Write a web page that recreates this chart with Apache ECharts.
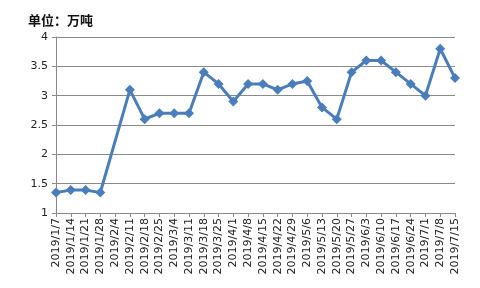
<!DOCTYPE html>
<html><head><meta charset="utf-8">
<script src="https://cdn.jsdelivr.net/npm/echarts@6/dist/echarts.min.js"></script>
<style>html,body{margin:0;padding:0;background:#fff}#c{width:480px;height:288px}</style>
</head><body><div id="c"></div>
<script>
var categories = ['2019/1/7','2019/1/14','2019/1/21','2019/1/28','2019/2/4','2019/2/11','2019/2/18','2019/2/25','2019/3/4','2019/3/11','2019/3/18','2019/3/25','2019/4/1','2019/4/8','2019/4/15','2019/4/22','2019/4/29','2019/5/6','2019/5/13','2019/5/20','2019/5/27','2019/6/3','2019/6/10','2019/6/17','2019/6/24','2019/7/1','2019/7/8','2019/7/15'];
var values = [1.35,1.39,1.39,1.35,null,3.1,2.6,2.7,2.7,2.7,3.4,3.2,2.9,3.2,3.2,3.1,3.2,3.25,2.8,2.6,3.4,3.6,3.6,3.4,3.2,3.0,3.8,3.3];
var yTicks = [1,1.5,2,2.5,3,3.5,4];
var unitLabel = '单位：万吨';

var chart = echarts.init(document.getElementById('c'));
chart.setOption({
  animation:false,
  backgroundColor:'#fff',
  title:{text:unitLabel,left:23,top:9,textStyle:{fontSize:13,fontWeight:'bold',color:'#111',fontFamily:'Noto Sans CJK SC'}},
  grid:{left:56,right:25,top:37,bottom:75},
  xAxis:{type:'category',data:categories,boundaryGap:false,
    axisLine:{lineStyle:{color:'#888',width:1}},
    axisTick:{show:true,alignWithLabel:true,length:4,lineStyle:{color:'#888'}},
    axisLabel:{rotate:90,interval:0,fontSize:11,color:'#222',fontFamily:'DejaVu Sans',margin:5}},
  yAxis:{type:'value',min:yTicks[0],max:yTicks[yTicks.length-1],interval:0.5,
    axisLine:{show:true,lineStyle:{color:'#888',width:1}},
    axisTick:{show:true,length:4,lineStyle:{color:'#888'}},
    splitLine:{lineStyle:{color:'#8a8a8a',width:1}},
    axisLabel:{fontSize:11,color:'#222',fontFamily:'DejaVu Sans',margin:8}},
  series:[{type:'line',data:values,connectNulls:true,symbol:'diamond',symbolSize:10,
    lineStyle:{color:'#4a7ebb',width:3},itemStyle:{color:'#4a7ebb'}}]
});
</script></body></html>
